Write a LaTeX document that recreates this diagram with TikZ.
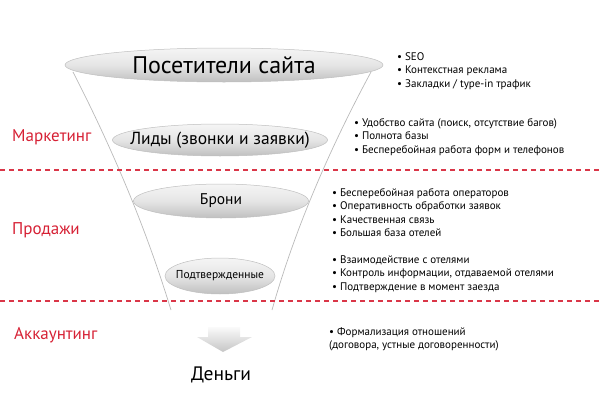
\documentclass[tikz,border=0pt]{standalone}
\usepackage{fontspec}
\setmainfont{PT Sans}
\usetikzlibrary{shapes.geometric}
\definecolor{mkred}{RGB}{214,32,52}

\tikzset{
  stage/.style={ellipse, inner sep=0pt, draw=gray!50, line width=.5pt,
    top color=gray!8, bottom color=gray!50, middle color=gray!20},
  dept/.style={anchor=west, inner sep=0pt, text=mkred, font=\fontsize{17}{20}\selectfont},
  bul/.style={anchor=base west, inner sep=0pt, font=\fontsize{11}{13}\selectfont},
  funnel/.style={draw=gray!55, line width=.7pt},
  sep/.style={draw=mkred!90, line width=1.1pt, dash pattern=on 5pt off 4pt}
}
% text that does not widen its ellipse
\newcommand{\stagetext}[1]{\makebox[0pt]{#1}}

\begin{document}
\begin{tikzpicture}[x=1pt, y=-1pt]
	\useasboundingbox (0,0) rectangle (600,407);
	% funnel sides
	\coordinate (ftl) at (73,72);
	\coordinate (fbl) at (171,310);
	\coordinate (ftr) at (371,72);
	\coordinate (fbr) at (272,310);
	\draw[funnel] (ftl) .. controls (131,185) and (158,268) .. (fbl);
	\draw[funnel] (ftr) .. controls (310,185) and (284,268) .. (fbr);
	% stages
	\node[stage, minimum width=318, minimum height=34, font=\fontsize{24}{26}\selectfont]
		(visit) at (224,65) {\stagetext{Посетители сайта}};
	\node[stage, minimum width=215, minimum height=32, font=\fontsize{17.5}{20}\selectfont]
		(leads) at (220,140) {\stagetext{Лиды (звонки и заявки)}};
	\node[stage, minimum width=175, minimum height=34, font=\fontsize{15.5}{18}\selectfont]
		(book) at (221,201) {\stagetext{Брони}};
	\node[stage, minimum width=110, minimum height=36, font=\fontsize{11.5}{13}\selectfont]
		(conf) at (220,276) {\stagetext{Подтвержденные}};
	% separators
	\draw[sep] (0,170) -- (600,170);
	\draw[sep] (0,301) -- (600,301);
	% departments
	\node[dept] (mkt) at (12,137) {Маркетинг};
	\node[dept] (sales) at (12,230) {Продажи};
	\node[dept] (acc) at (14,335) {Аккаунтинг};
	% arrow and result
	\shade[top color=gray!4, bottom color=gray!45]
		(208,327) -- (240,327) -- (240,337) -- (252,337) -- (223,352)
		-- (197,337) -- (208,337) -- cycle;
	\node[inner sep=0pt, font=\fontsize{19.5}{22}\selectfont] (money) at (221,375) {Деньги};
	% bullets
	\foreach \t [count=\i from 0] in {SEO, Контекстная реклама, Закладки / type-in трафик}
		\node[bul] (g1-\i) at (397,60+13.5*\i) {\textbullet\ \t};
	\foreach \t [count=\i from 0] in {{Удобство сайта (поиск, отсутствие багов)}, Полнота базы,
			Бесперебойная работа форм и телефонов}
		\node[bul] (g2-\i) at (354,126+13.5*\i) {\textbullet\ \t};
	\foreach \t [count=\i from 0] in {Бесперебойная работа операторов, Оперативность обработки заявок,
			Качественная связь, Большая база отелей}
		\node[bul] (g3-\i) at (332,196+13.5*\i) {\textbullet\ \t};
	\foreach \t [count=\i from 0] in {Взаимодействие с отелями, {Контроль информации, отдаваемой отелями},
			Подтверждение в момент заезда}
		\node[bul] (g4-\i) at (332,263+13.5*\i) {\textbullet\ \t};
	\node[bul] (g5-0) at (329,335) {\textbullet\ Формализация отношений};
	\node[bul] (g5-1) at (329,348) {(договора, устные договоренности)};
\end{tikzpicture}
\end{document}
